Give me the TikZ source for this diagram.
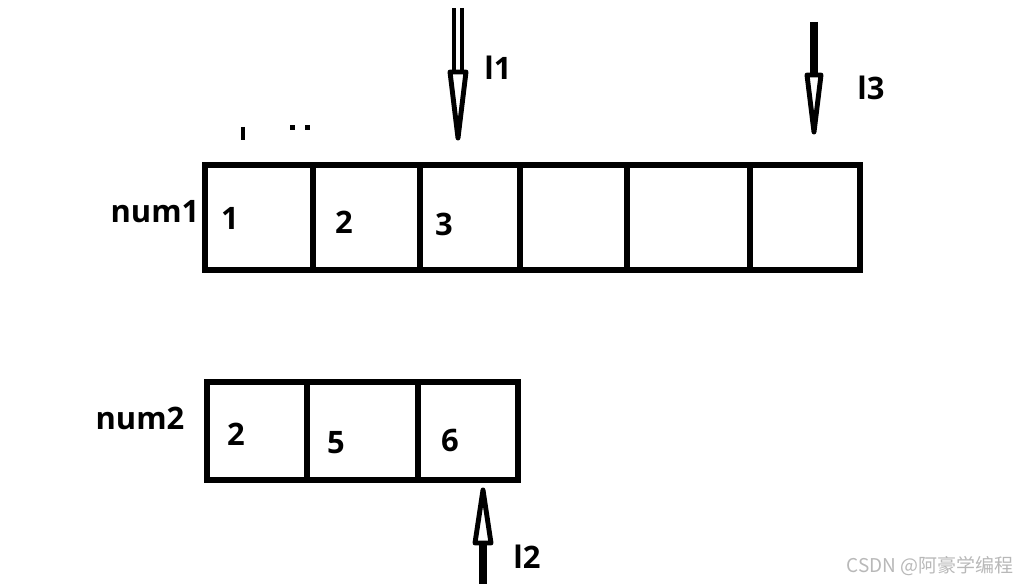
\documentclass[tikz,border=0pt]{standalone}
\usepackage{fontspec}
\setmainfont{Open Sans}
\newfontfamily\cjk{Noto Sans CJK SC}
\usetikzlibrary{calc,positioning}

\tikzset{
  cell/.style={draw, line width=3.6pt, inner sep=0pt, minimum height=2.625cm},
  lbl/.style={font=\bfseries\fontsize{22}{26}\selectfont, inner sep=0pt},
  shaft/.style={line width=5.9pt},
  hollowshaft/.style={line width=3pt, double, double distance=2.8pt},
  head/.style={draw, fill=white, line width=3.5pt, line join=round},
}

\begin{document}
\begin{tikzpicture}[x=0.025cm, y=0.025cm]
  %\draw[color=gray,step=50, help lines,opacity=0.3] (0,0) grid (1020,584); %help grids
  \useasboundingbox (0,0) rectangle (1020,584);

  % num1
  \node[lbl] (n1) at (155,372) {num1};
  \node[cell, minimum width=2.7cm]   (a1) at (259,366.5) {};
  \node[cell, minimum width=2.675cm] (a2) at (366.5,366.5) {};
  \node[cell, minimum width=2.5cm]   (a3) at (470,366.5) {};
  \node[cell, minimum width=2.675cm] (a4) at (573.5,366.5) {};
  \node[cell, minimum width=3.075cm] (a5) at (688.5,366.5) {};
  \node[cell, minimum width=2.75cm]  (a6) at (805,366.5) {};
  \node[lbl] (v1) at (230,366) {1};
  \node[lbl] (v2) at (344,362) {2};
  \node[lbl] (v3) at (444,360) {3};

  % num2
  \node[lbl] (n2) at (140,166) {num2};
  \node[cell, minimum height=2.45cm, minimum width=2.5cm]   (b1) at (257,153) {};
  \node[cell, minimum height=2.45cm, minimum width=2.775cm] (b2) at (362.5,153) {};
  \node[cell, minimum height=2.45cm, minimum width=2.5cm]   (b3) at (468,153) {};
  \node[lbl] (w1) at (236,150) {2};
  \node[lbl] (w2) at (336,141) {5};
  \node[lbl] (w3) at (450,144) {6};

  % l1
  \coordinate (l1s) at (458,576);
  \coordinate (l1b) at (458,512);
  \coordinate (l1t) at (458,446);
  \draw[hollowshaft] (l1s) -- (l1b);
  \draw[head] ($(l1b)+(-8,0)$) -- (l1t) -- ($(l1b)+(8,0)$) -- cycle;
  \node[lbl] (p1) at (498,516) {l1};

  % l3
  \coordinate (l3s) at (814,562);
  \coordinate (l3b) at (814,509);
  \coordinate (l3t) at (814,452);
  \draw[shaft] (l3s) -- (l3b);
  \draw[head] ($(l3b)+(-7,0)$) -- (l3t) -- ($(l3b)+(7,0)$) -- cycle;
  \node[lbl] (p3) at (871,496) {l3};

  % l2
  \coordinate (l2s) at (483,0);
  \coordinate (l2b) at (483,41);
  \coordinate (l2t) at (483,94);
  \draw[shaft] (l2s) -- (l2b);
  \draw[head] ($(l2b)+(-8,0)$) -- (l2t) -- ($(l2b)+(8,0)$) -- cycle;
  \node[lbl] (p2) at (527,27) {l2};

  % stray marks
  \draw[line width=3pt] (243,457) -- (243,444);
  \fill (290,454) rectangle (295,459);
  \fill (305,454) rectangle (310,459);

  \node[font=\cjk\fontsize{13.5}{15}\selectfont, text=black!28] (wm) at (930,18) {CSDN @阿豪学编程};
\end{tikzpicture}
\end{document}
